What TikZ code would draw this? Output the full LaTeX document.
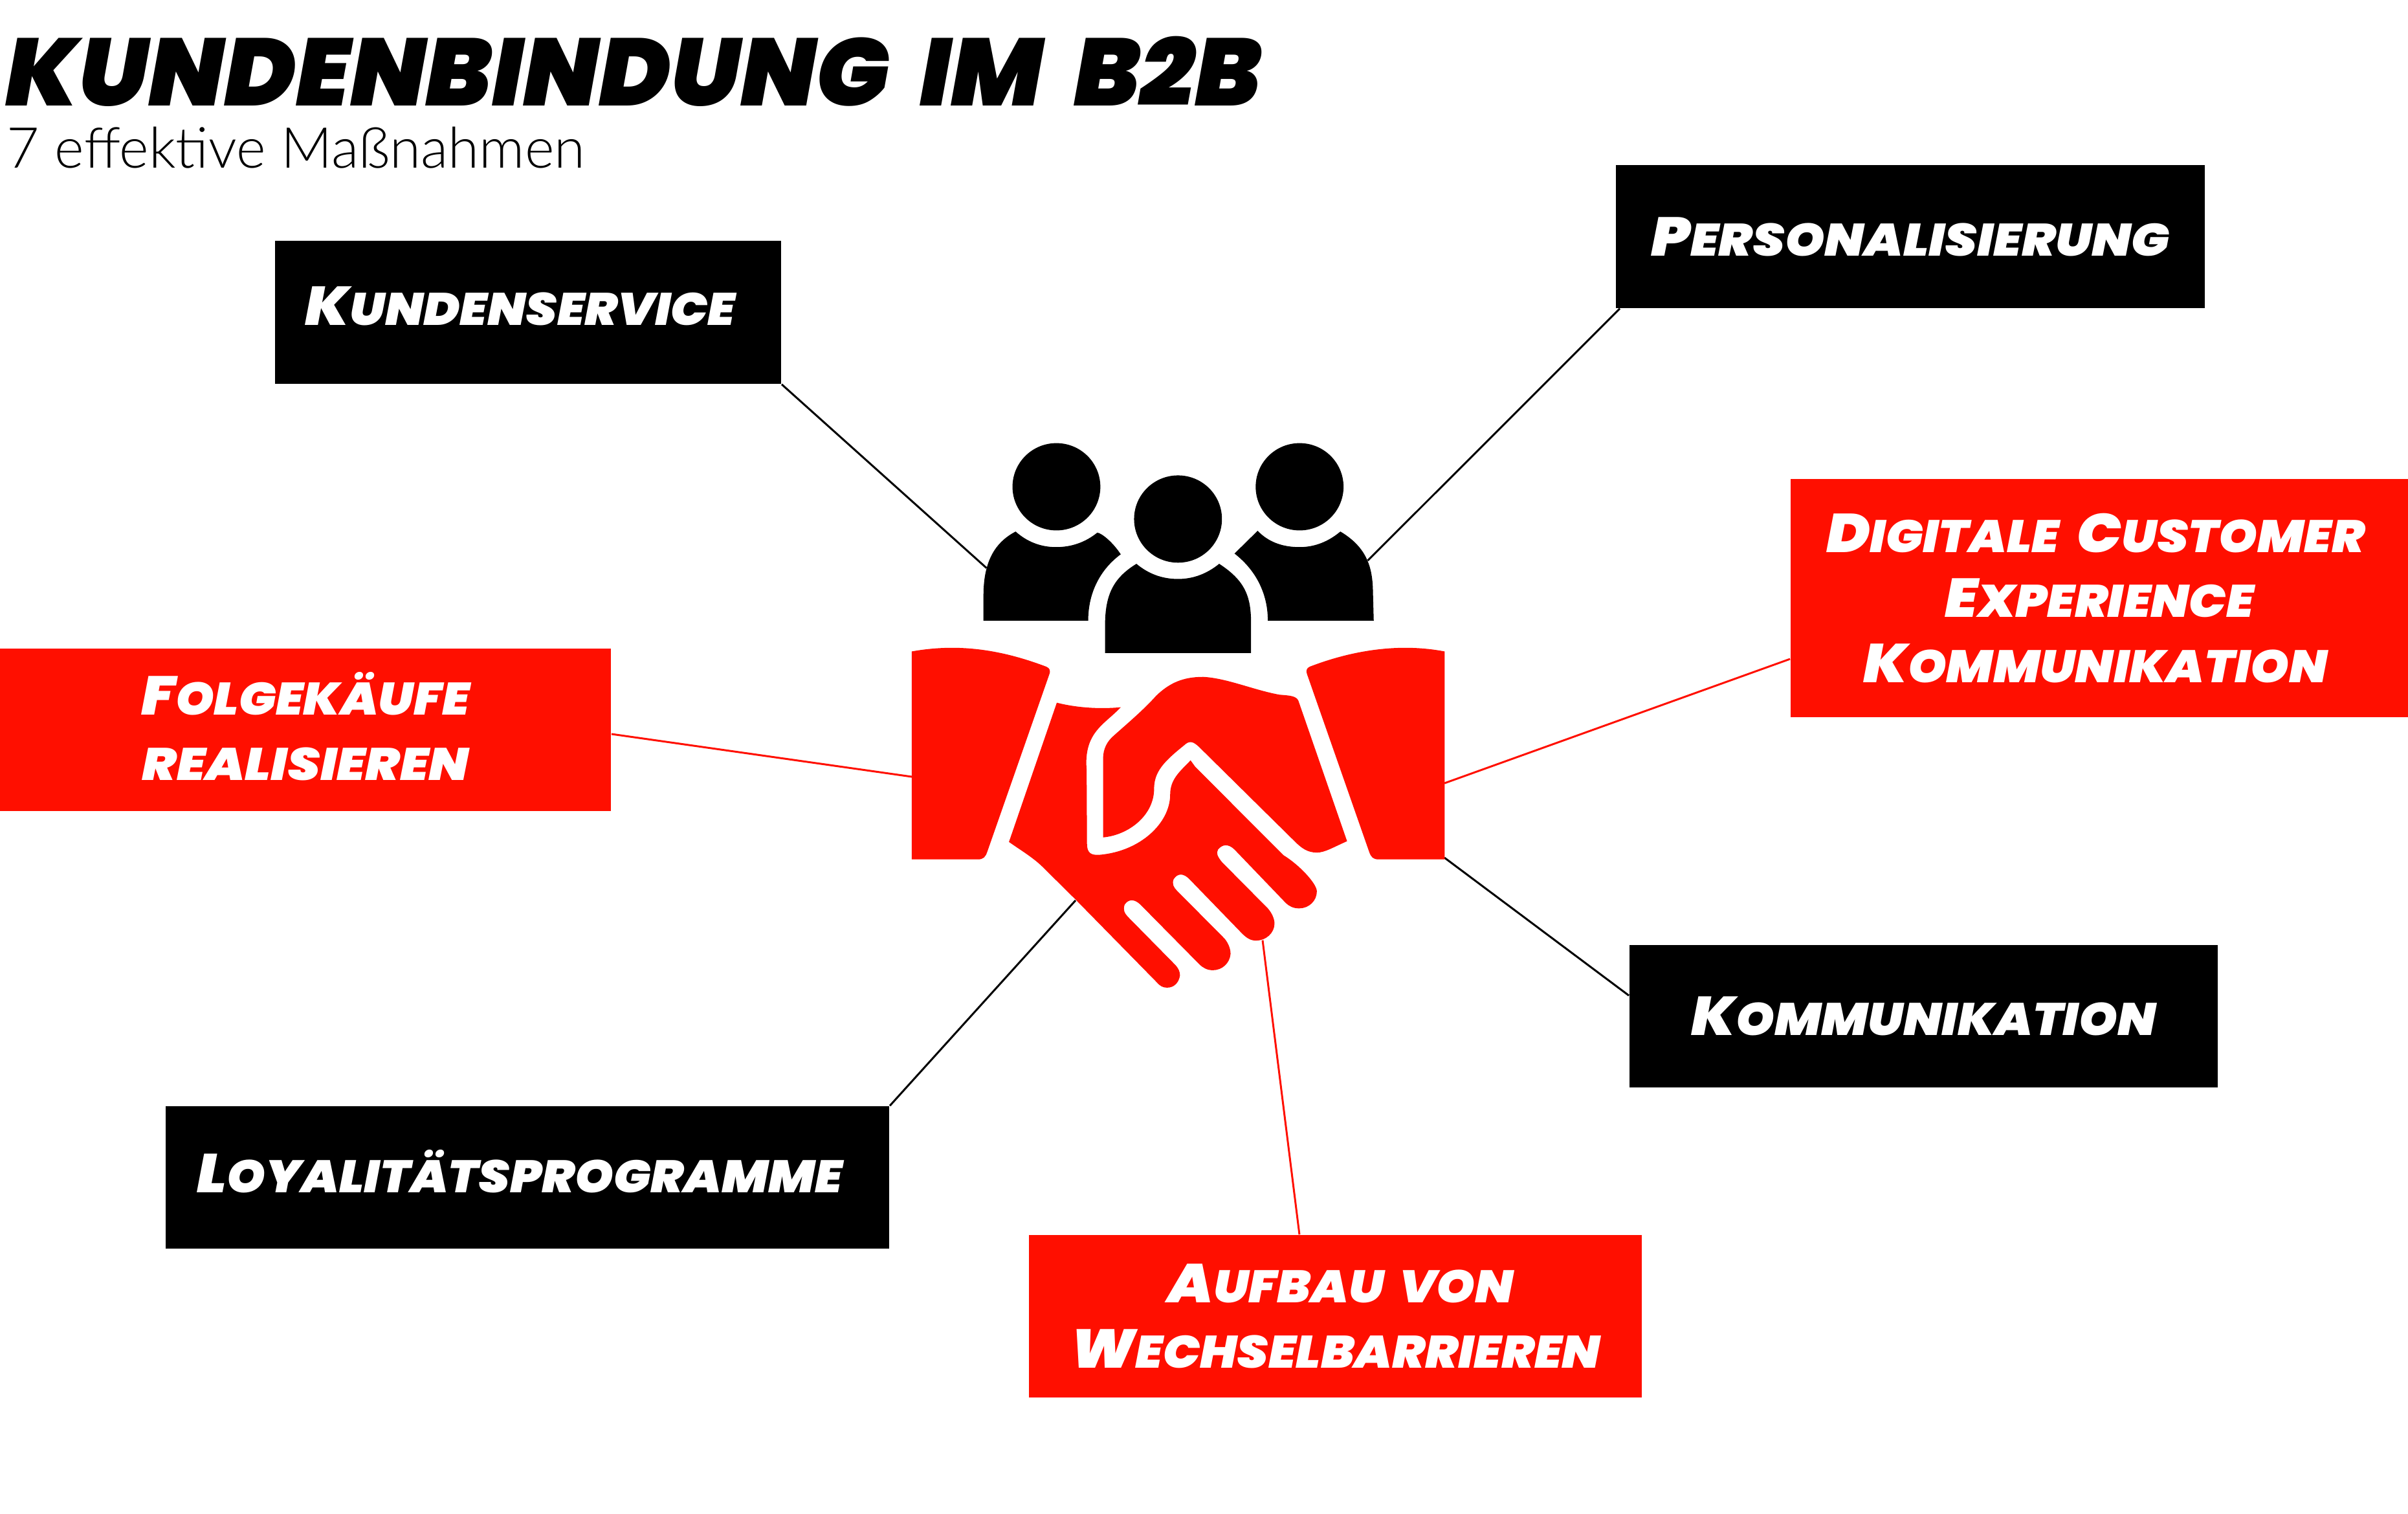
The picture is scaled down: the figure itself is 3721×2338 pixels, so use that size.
\documentclass[tikz,border=0pt]{standalone}
\usepackage{xcolor}
\usepackage{fontspec}
\usepackage{tikz}
\newfontfamily\titlefont[FakeStretch=1.015,WordSpace=1.85]{Poppins Black Italic}
\newfontfamily\boxfont[FakeStretch=1.08,WordSpace=1.8]{Poppins Black Italic}
\newfontfamily\subfont{Lato Light}
\definecolor{signalred}{HTML}{FF0F00}
\newcommand{\kap}[2]{{\fontsize{24}{28.7}\selectfont #1}{\fontsize{20}{28.7}\selectfont\MakeUppercase{#2}}}
\newcommand{\nudge}[3]{\raisebox{#2}{\hspace*{#1}#3}}
\tikzset{
  blackbox/.style={fill=black,text=white,align=center,inner sep=0pt,font=\boxfont\fontsize{24}{28.7}\selectfont,minimum width=#1},
  redbox/.style={fill=signalred,text=white,align=center,inner sep=0pt,font=\boxfont\fontsize{24}{28.7}\selectfont,minimum width=#1},
  blackline/.style={draw=black,line width=0.85pt},
  redline/.style={draw=signalred,line width=0.85pt}
}
\begin{document}
\begin{tikzpicture}[x=0.01cm,y=-0.01cm]
      \useasboundingbox (0,0) rectangle (3721,2338);
      \node[anchor=base west,inner sep=0pt,font=\titlefont\fontsize{42}{50}\selectfont] (title) at (8,163) {KUNDENBINDUNG IM B2B};
      \node[anchor=base west,inner sep=0pt,font=\subfont\fontsize{24.8}{30}\selectfont] (subtitle) at (10,259) {7 effektive Maßnahmen};
      \node[blackbox=7.82cm,minimum height=2.21cm] (kundenservice) at (816,482.5) {\nudge{-6.8pt}{5.4pt}{\kap{K}{undenservice}}};
      \node[blackbox=9.10cm,minimum height=2.21cm] (personal) at (2952,365.5) {\scalebox{1.028}[1]{\kap{P}{ersonalisierung}}};
      \node[redbox=9.54cm,minimum height=3.68cm] (digital) at (3244,924) {\kap{D}{igitale} \kap{C}{ustomer}\hspace*{3.4pt}\\\kap{E}{xperience}\hspace*{3.4pt}\\\kap{K}{ommunikation}\hspace*{3.4pt}};
      \node[redbox=9.44cm,minimum height=2.51cm,text depth=3pt] (folgekauf) at (472,1127.5) {\kap{F}{olgekäufe}\\\scalebox{1.045}[1]{\kap{}{realisieren}}};
      \node[blackbox=9.09cm,minimum height=2.20cm] (kommunikation) at (2972.5,1570) {\kap{K}{ommunikation}};
      \node[blackbox=11.18cm,minimum height=2.20cm] (loyal) at (815,1819) {\nudge{-6.8pt}{5.4pt}{\kap{L}{oyalitätsprogramme}}};
      \node[redbox=9.47cm,minimum height=2.51cm] (wechsel) at (2063.5,2033.5) {\hspace*{4.8pt}\kap{A}{ufbau von}\\\kap{W}{echselbarrieren}};
      \coordinate (iconNW) at (1524.5,877.6);
      \coordinate (iconNE) at (2113.5,866);
      \coordinate (iconE) at (2232,1210);
      \coordinate (iconW) at (1409,1200);
      \coordinate (iconSE) at (2232,1325);
      \coordinate (iconSW) at (1662,1391);
      \coordinate (iconS) at (1951,1452.6);
      \draw[blackline] (kundenservice.south east) -- (iconNW);
      \draw[blackline] ([xshift=0.7mm]personal.south west) -- (iconNE);
      \draw[redline] ([yshift=-9.4mm]digital.west) -- (iconE);
      \draw[redline] ([yshift=-0.65mm]folgekauf.east) -- (iconW);
      \draw[blackline] ([yshift=3.2mm]kommunikation.west) -- (iconSE);
      \draw[blackline] (loyal.north east) -- (iconSW);
      \draw[redline] ([xshift=-5.55mm]wechsel.north) -- (iconS);
      \begin{scope}[shift={(1350,650)},x=0.006059cm,y=-0.005867cm]
        \fill (466,174) ellipse [x radius=112,y radius=115];
        \fill (776,259) ellipse [x radius=112,y radius=115];
        \fill (1086,174) ellipse [x radius=112,y radius=115];
        \fill (280,527) -- (547,527) .. controls (547,450) and (580,390) .. (630,352)
          .. controls (610,320) and (580,295) .. (570,295) .. controls (540,320) and (505,333) .. (465,333)
          .. controls (425,333) and (390,318) .. (362,292) .. controls (310,320) and (280,370) .. (280,460) -- cycle;
        \fill (1005,527) -- (1275,527) -- (1273,450) .. controls (1272,390) and (1260,335) .. (1190,292)
          .. controls (1160,318) and (1125,333) .. (1086,333) .. controls (1040,333) and (1005,318) .. (979,290)
          -- (920,350) .. controls (970,390) and (1005,450) .. cycle;
        \fill (590,612) -- (962,612) -- (962,520) .. controls (960,460) and (945,420) .. (881,377)
          .. controls (850,403) and (815,417) .. (776,417) .. controls (735,417) and (700,403) .. (670,377)
          .. controls (610,415) and (590,460) .. (590,540) -- cycle;
        \fill[signalred] (97,608) .. controls (220,585) and (330,605) .. (440,648) .. controls (450,652) and (451,660) .. (448,668)
          -- (290,1135) .. controls (285,1150) and (280,1156) .. (265,1156) -- (97,1156) -- cycle;
        \fill[signalred] (1456,608) .. controls (1340,585) and (1220,605) .. (1112,648) .. controls (1103,652) and (1102,660) .. (1105,668)
          -- (1263,1135) .. controls (1268,1150) and (1273,1156) .. (1288,1156) -- (1456,1156) -- cycle;
        \fill[signalred] (585,1098) -- (585,890) .. controls (585,865) and (595,845) .. (612,830)
          .. controls (650,795) and (690,760) .. (720,725) .. controls (755,690) and (790,675) .. (840,675)
          .. controls (900,678) and (970,710) .. (1035,722) .. controls (1060,724) and (1078,725) .. (1083,738)
          -- (1207,1108) .. controls (1170,1125) and (1150,1138) .. (1130,1138) .. controls (1105,1138) and (1090,1125) .. (1075,1110)
          -- (830,860) .. controls (815,845) and (805,842) .. (792,855) .. controls (740,898) and (715,925) .. (715,970)
          .. controls (715,1040) and (650,1092) .. cycle;
        \fill[signalred] (467,743) .. controls (520,757) and (580,760) .. (630,755) .. controls (590,800) and (535,820) .. (543,920)
          -- (544,1115) .. controls (544,1140) and (555,1145) .. (575,1144) .. controls (680,1135) and (756,1060) .. (756,985)
          .. controls (756,945) and (780,925) .. (808,895) -- (820,912) -- (1045,1145)
          .. controls (1085,1170) and (1130,1220) .. (1130,1240) .. controls (1130,1265) and (1110,1285) .. (1085,1285)
          .. controls (1070,1285) and (1060,1280) .. (1050,1270) -- (920,1130) .. controls (905,1115) and (890,1115) .. (878,1130)
          .. controls (872,1140) and (878,1150) .. (888,1163) -- (1005,1285) .. controls (1015,1297) and (1022,1312) .. (1022,1325)
          .. controls (1022,1350) and (1000,1370) .. (975,1370) .. controls (960,1370) and (950,1362) .. (940,1352)
          -- (805,1208) .. controls (790,1192) and (775,1192) .. (765,1208) .. controls (760,1220) and (765,1230) .. (773,1238)
          -- (895,1365) .. controls (905,1378) and (910,1392) .. (910,1405) .. controls (908,1430) and (888,1448) .. (865,1448)
          .. controls (850,1448) and (840,1442) .. (830,1432) -- (680,1275) .. controls (665,1260) and (650,1260) .. (640,1275)
          .. controls (635,1290) and (640,1298) .. (648,1307) -- (770,1435) .. controls (778,1445) and (781,1452) .. (781,1462)
          .. controls (778,1482) and (765,1494) .. (748,1494) .. controls (738,1494) and (730,1490) .. (722,1480)
          -- (515,1262) -- (430,1175) .. controls (405,1150) and (375,1132) .. (345,1110) -- cycle;
      \end{scope}
\end{tikzpicture}
\end{document}
